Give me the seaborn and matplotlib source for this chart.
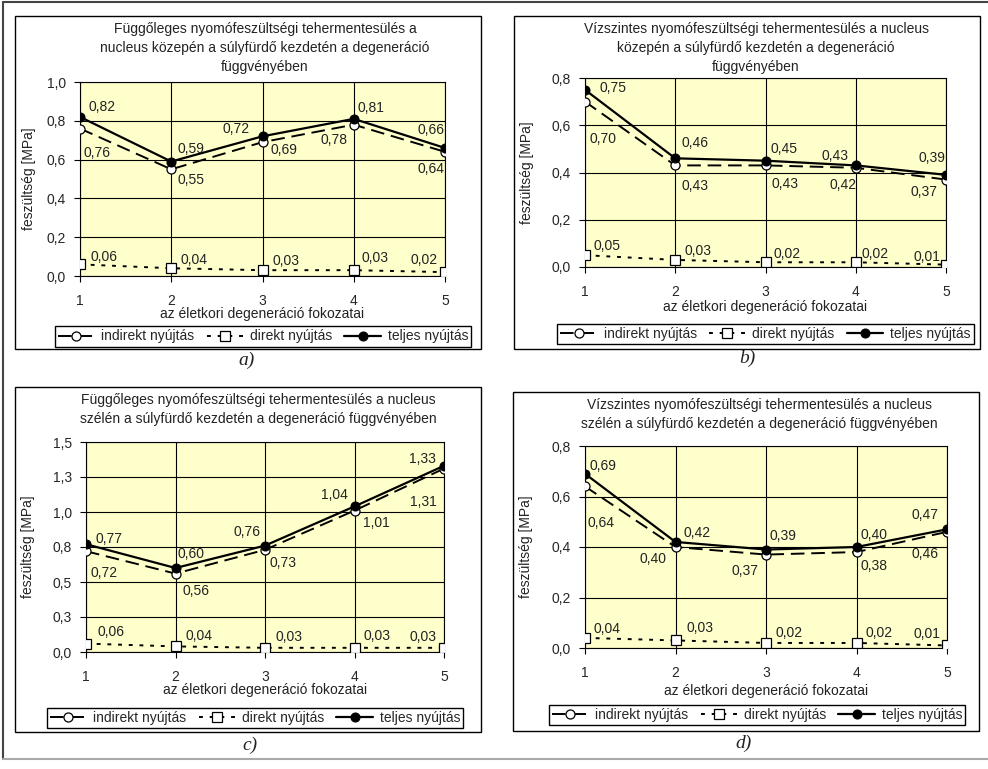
import matplotlib
matplotlib.use("Agg")
import matplotlib.pyplot as plt
import seaborn as sns
import pandas as pd
from matplotlib.lines import Line2D
from matplotlib.patches import Rectangle

# ---------------- data ----------------
x_fok = [1, 2, 3, 4, 5]
series_names = ["indirekt nyújtás", "direkt nyújtás", "teljes nyújtás"]

titles = [
    "Függőleges nyomófeszültségi tehermentesülés a\nnucleus közepén a súlyfürdő kezdetén a degeneráció\nfüggvényében",
    "Vízszintes nyomófeszültségi tehermentesülés a nucleus\nközepén a súlyfürdő kezdetén a degeneráció\nfüggvényében",
    "Függőleges nyomófeszültségi tehermentesülés a nucleus\nszélén a súlyfürdő kezdetén a degeneráció függvényében",
    "Vízszintes nyomófeszültségi tehermentesülés a nucleus\nszélén a súlyfürdő kezdetén a degeneráció függvényében",
]
captions = ["a)", "b)", "c)", "d)"]
xlabel_txt = "az életkori degeneráció fokozatai"
ylabel_txt = "feszültség [MPa]"

a_indirekt = [0.76, 0.55, 0.69, 0.78, 0.64]
a_direkt = [0.06, 0.04, 0.03, 0.03, 0.02]
a_teljes = [0.82, 0.59, 0.72, 0.81, 0.66]

b_indirekt = [0.70, 0.43, 0.43, 0.42, 0.37]
b_direkt = [0.05, 0.03, 0.02, 0.02, 0.01]
b_teljes = [0.75, 0.46, 0.45, 0.43, 0.39]

c_indirekt = [0.72, 0.56, 0.73, 1.01, 1.31]
c_direkt = [0.06, 0.04, 0.03, 0.03, 0.03]
c_teljes = [0.77, 0.60, 0.76, 1.04, 1.33]

d_indirekt = [0.64, 0.40, 0.37, 0.38, 0.46]
d_direkt = [0.04, 0.03, 0.02, 0.02, 0.01]
d_teljes = [0.69, 0.42, 0.39, 0.40, 0.47]

yticks_a = [0.0, 0.2, 0.4, 0.6, 0.8, 1.0]
ylabels_a = ["0,0", "0,2", "0,4", "0,6", "0,8", "1,0"]
yticks_bd = [0.0, 0.2, 0.4, 0.6, 0.8]
ylabels_bd = ["0,0", "0,2", "0,4", "0,6", "0,8"]
yticks_c = [0.0, 0.25, 0.5, 0.75, 1.0, 1.25, 1.5]
ylabels_c = ["0,0", "0,3", "0,5", "0,8", "1,0", "1,3", "1,5"]

# ---------------- layout / style (not data) ----------------
W, H = 988, 769
BG = "#FFFFCC"

# plot area in pixel coords: (x0, x1, ytop, ybottom)
plot_px = [(80, 445, 82, 276), (585, 946, 78, 267), (86, 444, 442, 652), (585, 947, 446, 648)]
box_px = [(15, 481, 16, 349), (514, 980, 16, 349), (15, 481, 387, 732), (513, 979, 392, 731)]
legend_px = [(51, 475, 325, 348), (557, 974, 321, 347), (47, 463, 706, 730), (548, 966, 702, 728)]
title_px = [(265, 22), (756, 22), (258, 393), (759, 398)]
caption_px = [(247, 360), (747, 358), (250, 745), (744, 743)]
ylabel_x = [29, 527, 28, 526]
xlabel_y = [314, 307, 690, 691]

# label offsets in pixels (dx, dy) for left-aligned labels: indirekt, direkt, teljes
offs = [
    {
        "ind": [(3, -24), (6, -11), (8, -8), (-33, -15), (-28, -17)],
        "dir": [(10, 7), (9, 8), (10, 9), (8, 12), (-35, 12)],
        "tel": [(8, 10), (6, 13), (-40, 7), (4, 11), (-28, 18)],
    },
    {
        "ind": [(5, -37), (6, -21), (6, -19), (-26, -17), (-36, -12)],
        "dir": [(8, 9), (9, 9), (8, 8), (6, 8), (-33, 8)],
        "tel": [(15, 2), (6, 15), (5, 12), (-34, 9), (-28, 17)],
    },
    {
        "ind": [(4, -22), (7, -17), (5, -13), (8, -12), (-34, -33)],
        "dir": [(11, 12), (10, 10), (11, 11), (9, 12), (-35, 11)],
        "tel": [(9, 5), (2, 14), (-31, 14), (-33, 11), (-35, 7)],
    },
    {
        "ind": [(3, -37), (-36, -12), (-34, -16), (4, -14), (-36, -22)],
        "dir": [(9, 9), (11, 12), (10, 10), (9, 10), (-33, 11)],
        "tel": [(4, 8), (8, 9), (3, 14), (4, 12), (-35, 14)],
    },
]

sns.set_theme(style="white")
plt.rcParams["font.family"] = ["Liberation Sans", "DejaVu Sans"]
plt.rcParams["font.size"] = 10

fig = plt.figure(figsize=(W / 100, H / 100), dpi=100)
fig.patch.set_facecolor("white")


def fx(px):
    return px / W


def fy(py):
    return 1 - py / H


panels = [
    (a_indirekt, a_direkt, a_teljes, (0, 1.0), yticks_a, ylabels_a),
    (b_indirekt, b_direkt, b_teljes, (0, 0.8), yticks_bd, ylabels_bd),
    (c_indirekt, c_direkt, c_teljes, (0, 1.5), yticks_c, ylabels_c),
    (d_indirekt, d_direkt, d_teljes, (0, 0.8), yticks_bd, ylabels_bd),
]

fmt = lambda v: f"{v:.2f}".replace(".", ",")

for i, (ind, dire, tel, ylim, yt, ytl) in enumerate(panels):
    # chart box
    bx0, bx1, by0, by1 = box_px[i]
    fig.patches.append(Rectangle((fx(bx0), fy(by1)), fx(bx1 - bx0), (by1 - by0) / H,
                                 transform=fig.transFigure, fill=False, edgecolor="black",
                                 linewidth=1.0, zorder=0))
    x0, x1, yt0, yb = plot_px[i]
    ax = fig.add_axes([fx(x0), fy(yb), fx(x1 - x0), (yb - yt0) / H])
    ax.set_facecolor(BG)

    df = pd.DataFrame({"x": x_fok, "ind": ind, "dir": dire, "tel": tel})
    sns.lineplot(data=df, x="x", y="ind", ax=ax, color="black", linewidth=1.4,
                 linestyle=(0, (7, 3.5)), marker="o", markersize=6.5,
                 markerfacecolor="white", markeredgecolor="black", markeredgewidth=0.9,
                 label=series_names[0], zorder=4)
    sns.lineplot(data=df, x="x", y="dir", ax=ax, color="black", linewidth=1.4,
                 linestyle=(0, (2, 3.5)), marker="s", markersize=6.5,
                 markerfacecolor="white", markeredgecolor="black", markeredgewidth=0.9,
                 label=series_names[1], zorder=4)
    sns.lineplot(data=df, x="x", y="tel", ax=ax, color="black", linewidth=1.6,
                 linestyle="-", marker="o", markersize=6.5,
                 markerfacecolor="black", markeredgecolor="black",
                 label=series_names[2], zorder=5)

    ax.set_xlim(1, 5)
    ax.set_ylim(*ylim)
    ax.set_xticks(x_fok)
    ax.set_xticklabels([str(v) for v in x_fok], fontsize=10)
    ax.set_yticks(yt)
    ax.set_yticklabels(ytl, fontsize=10)
    ax.grid(True, color="black", linewidth=0.8)
    ax.set_axisbelow(True)
    for s in ax.spines.values():
        s.set_color("black")
        s.set_linewidth(0.8)
    ax.tick_params(axis="x", which="both", direction="out", length=4, width=0.8,
                   color="black", pad=9, bottom=True)
    ax.tick_params(axis="y", which="both", direction="out", length=4, width=0.8,
                   color="black", pad=6, left=True)
    ax.set_xlabel("")
    ax.set_ylabel("")
    ax.get_legend().remove()

    # data labels
    for key, vals in (("ind", ind), ("dir", dire), ("tel", tel)):
        for k, (xv, yv) in enumerate(zip(x_fok, vals)):
            dx, dy = offs[i][key][k]
            ax.annotate(fmt(yv), (xv, yv), xytext=(dx, dy), textcoords="offset pixels",
                        ha="left", va="center", fontsize=10, color="#222222",
                        annotation_clip=False, zorder=6)

    # titles / labels
    tx, ty = title_px[i]
    fig.text(fx(tx), fy(ty), titles[i], ha="center", va="top", fontsize=10,
             linespacing=1.45, color="#222222")
    fig.text(fx(ylabel_x[i]), fy((yt0 + yb) / 2), ylabel_txt, rotation=90,
             ha="center", va="center", fontsize=10, color="#222222")
    fig.text(fx((x0 + x1) / 2), fy(xlabel_y[i]), xlabel_txt, ha="center",
             va="center", fontsize=10, color="#222222")

    # legend
    lx0, lx1, ly0, ly1 = legend_px[i]
    handles, labels = ax.get_legend_handles_labels()
    leg = fig.legend(handles, labels, loc="center",
                     bbox_to_anchor=(fx((lx0 + lx1) / 2), fy((ly0 + ly1) / 2)),
                     ncol=3, frameon=True, fancybox=False, shadow=False,
                     edgecolor="black", framealpha=1, fontsize=10,
                     handlelength=2.6, handletextpad=0.5, columnspacing=0.9,
                     borderpad=0.25, borderaxespad=0)
    leg.get_frame().set_linewidth(1.0)

    cx, cy = caption_px[i]
    fig.text(fx(cx), fy(cy), captions[i], ha="center", va="center",
             fontsize=14, fontstyle="italic", family="Liberation Serif", color="#222222")

# outer frame lines
fig.lines.append(Line2D([fx(3), fx(3)], [fy(2), fy(759)], transform=fig.transFigure,
                        color="#444444", linewidth=1.5))
fig.lines.append(Line2D([fx(3), fx(988)], [fy(2), fy(2)], transform=fig.transFigure,
                        color="#444444", linewidth=1.5))
fig.lines.append(Line2D([fx(3), fx(988)], [fy(759), fy(759)], transform=fig.transFigure,
                        color="#aaaaaa", linewidth=1.5))

fig.savefig("out.png", dpi=100)
